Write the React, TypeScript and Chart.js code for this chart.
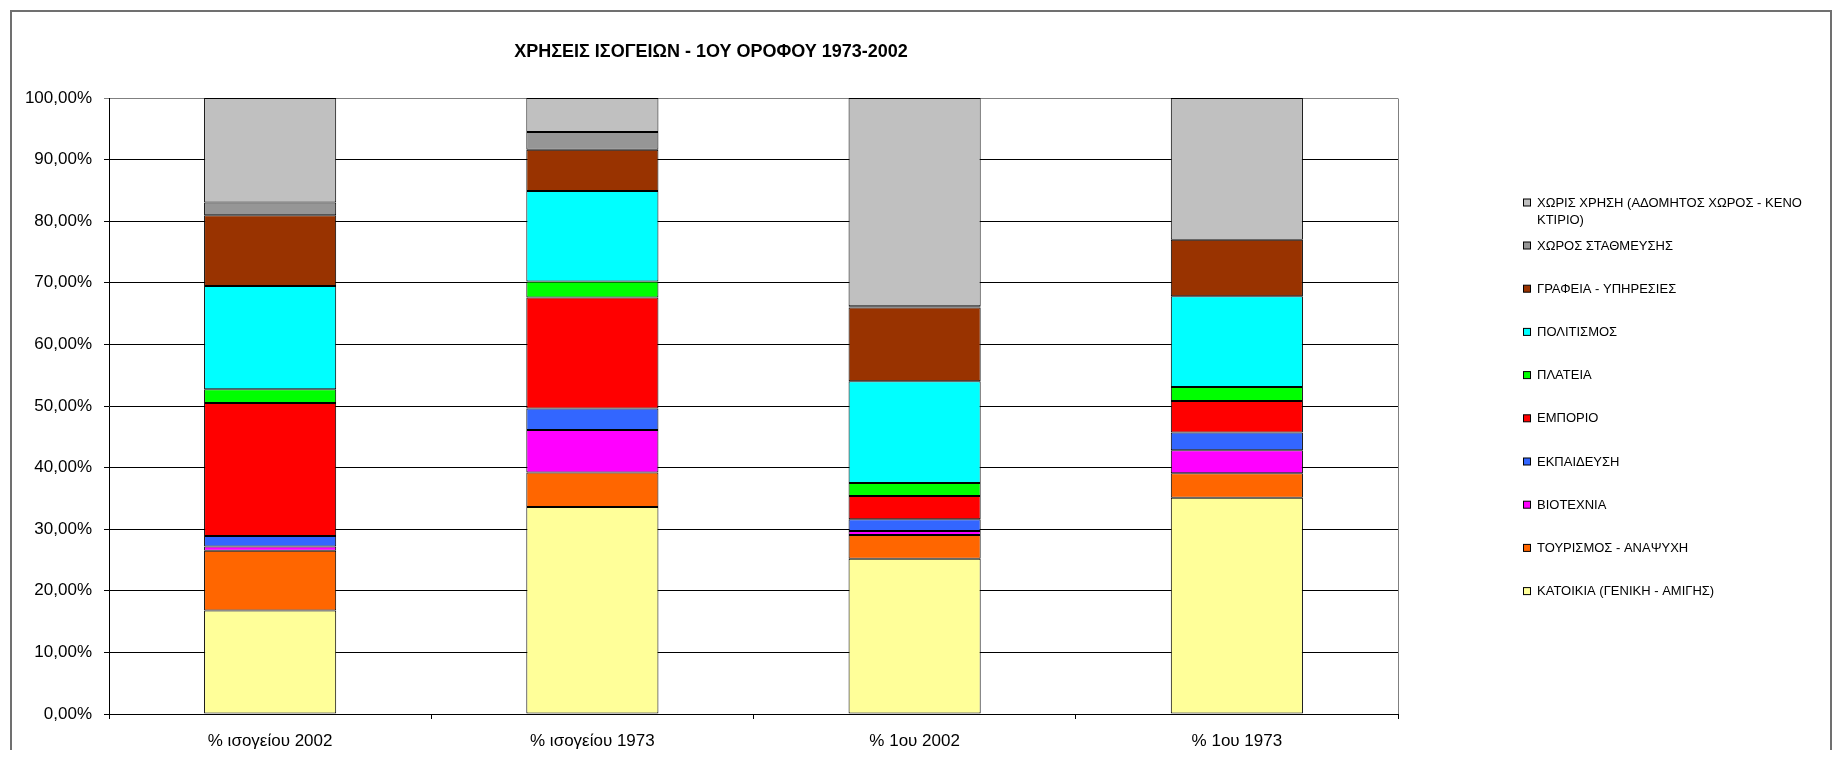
import React, { useEffect, useRef } from "react";
import { Chart, registerables } from "chart.js";

Chart.register(...registerables);

const TITLE = "ΧΡΗΣΕΙΣ ΙΣΟΓΕΙΩΝ - 1ΟΥ ΟΡΟΦΟΥ 1973-2002";

const categories = ["% ισογείου 2002", "% ισογείου 1973", "% 1ου 2002", "% 1ου 1973"];

// series, bottom to top of the stack
const seriesNames = [
  "ΚΑΤΟΙΚΙΑ (ΓΕΝΙΚΗ - ΑΜΙΓΗΣ)",
  "ΤΟΥΡΙΣΜΟΣ - ΑΝΑΨΥΧΗ",
  "ΒΙΟΤΕΧΝΙΑ",
  "ΕΚΠΑΙΔΕΥΣΗ",
  "ΕΜΠΟΡΙΟ",
  "ΠΛΑΤΕΙΑ",
  "ΠΟΛΙΤΙΣΜΟΣ",
  "ΓΡΑΦΕΙΑ - ΥΠΗΡΕΣΙΕΣ",
  "ΧΩΡΟΣ ΣΤΑΘΜΕΥΣΗΣ",
  "ΧΩΡΙΣ ΧΡΗΣΗ (ΑΔΟΜΗΤΟΣ ΧΩΡΟΣ - ΚΕΝΟ ΚΤΙΡΙΟ)",
];

const katoikia = [16.8, 33.6, 25.2, 35.1];
const tourismos = [9.7, 5.6, 3.85, 4.0];
const biotexnia = [0.7, 6.9, 0.65, 3.7];
const ekpaideysi = [1.7, 3.5, 1.9, 2.9];
const emporio = [21.6, 18.0, 3.8, 5.1];
const plateia = [2.2, 2.6, 2.1, 2.3];
const politismos = [16.8, 14.7, 16.5, 14.7];
const grafeia = [11.45, 6.7, 12.0, 9.2];
const stathmeysi = [2.1, 2.9, 0.2, 0];
const xorisXrisi = [16.95, 5.5, 33.8, 23.0];

const seriesValues = [
  katoikia,
  tourismos,
  biotexnia,
  ekpaideysi,
  emporio,
  plateia,
  politismos,
  grafeia,
  stathmeysi,
  xorisXrisi,
];

const seriesColors = [
  "#FFFF99",
  "#FF6600",
  "#FF00FF",
  "#3366FF",
  "#FF0000",
  "#00FF00",
  "#00FFFF",
  "#993300",
  "#969696",
  "#C0C0C0",
];

const FONT = "'Liberation Sans', Arial, sans-serif";

const decorPlugin = {
  id: "decor",
  beforeDraw(chart: any) {
    const ctx = chart.ctx;
    ctx.save();
    ctx.fillStyle = "#fff";
    ctx.fillRect(0, 0, chart.width, chart.height);
    ctx.strokeStyle = "#707070";
    ctx.lineWidth = 2;
    ctx.beginPath();
    ctx.moveTo(3, chart.height + 5);
    ctx.lineTo(3, 3);
    ctx.lineTo(1823, 3);
    ctx.lineTo(1823, chart.height + 5);
    ctx.stroke();
    ctx.restore();
  },
  beforeDatasetsDraw(chart: any) {
    const { ctx, chartArea } = chart;
    ctx.save();
    ctx.strokeStyle = "#808080";
    ctx.lineWidth = 1;
    ctx.beginPath();
    const r = Math.round(chartArea.right) + 0.5;
    ctx.moveTo(r, Math.round(chartArea.top) + 0.5);
    ctx.lineTo(r, Math.round(chartArea.bottom));
    ctx.stroke();
    ctx.restore();
  },
  afterDraw(chart: any) {
    const ctx = chart.ctx;
    ctx.save();
    // title
    ctx.fillStyle = "#000";
    ctx.font = `bold 18px ${FONT}`;
    ctx.textAlign = "center";
    ctx.textBaseline = "middle";
    ctx.fillText(TITLE, 703, 44);

    // legend (reversed order, like the stack)
    ctx.font = `13px ${FONT}`;
    ctx.textAlign = "left";
    const markerX = 1515.5;
    const textX = 1529;
    const maxW = 282;
    const items = seriesNames
      .map((n, i) => ({ name: n, color: seriesColors[i] }))
      .reverse();
    items.forEach((it, i) => {
      const y = i === 0 ? 195 : 238 + (i - 1) * 43.2;
      ctx.fillStyle = it.color;
      ctx.fillRect(markerX, y - 4, 7, 7);
      ctx.strokeStyle = "#000";
      ctx.lineWidth = 1;
      ctx.strokeRect(markerX, y - 4, 7, 7);
      // wrap
      const words = it.name.split(" ");
      const lines: string[] = [];
      let cur = "";
      words.forEach((w) => {
        const t = cur ? cur + " " + w : w;
        if (ctx.measureText(t).width > maxW && cur) {
          lines.push(cur);
          cur = w;
        } else cur = t;
      });
      if (cur) lines.push(cur);
      ctx.fillStyle = "#000";
      lines.forEach((ln, k) => ctx.fillText(ln, textX, y + k * 17.3));
    });
    ctx.restore();
  },
};

export default function App() {
  const ref = useRef<HTMLCanvasElement>(null);
  useEffect(() => {
    const tickFont = { family: FONT, size: 17 };
    const chart = new Chart(ref.current as HTMLCanvasElement, {
      type: "bar",
      data: {
        labels: categories,
        datasets: seriesNames.map((name, i) => ({
          label: name,
          data: seriesValues[i],
          backgroundColor: seriesColors[i],
          borderColor: "#000",
          borderWidth: 1,
          borderSkipped: false,
          barPercentage: 0.41,
          categoryPercentage: 1,
        })),
      },
      options: {
        animation: false,
        responsive: true,
        maintainAspectRatio: false,
        layout: { padding: { left: 0, right: 439, top: 90, bottom: 0 } },
        plugins: {
          legend: { display: false },
          title: { display: false },
          tooltip: { enabled: false },
        },
        scales: {
          x: {
            stacked: true,
            grid: {
              display: true,
              drawOnChartArea: false,
              drawTicks: true,
              tickLength: 5,
              color: "#000",
            },
            border: { color: "#000" },
            ticks: { font: tickFont, color: "#000", padding: 12, maxRotation: 0 },
            afterFit: (s: any) => {
              s.height = 36;
            },
          },
          y: {
            stacked: true,
            min: 0,
            max: 100,
            ticks: {
              stepSize: 10,
              font: tickFont,
              color: "#000",
              padding: 12,
              callback: (v: any) => Number(v).toFixed(2).replace(".", ",") + "%",
            },
            grid: {
              color: (c: any) => (c.tick && c.tick.value === 100 ? "#808080" : "#000"),
              tickLength: 5,
            },
            border: { color: "#000" },
            afterFit: (s: any) => {
              s.width = 101;
            },
          },
        },
      } as any,
      plugins: [decorPlugin],
    });
    return () => chart.destroy();
  }, []);
  return (
    <div style={{ width: 1829, height: 742, position: "relative" }}>
      <canvas ref={ref} />
    </div>
  );
}
